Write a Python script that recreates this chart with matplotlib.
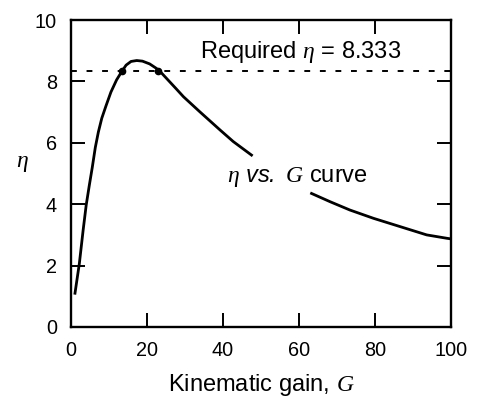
import numpy as np
import matplotlib
matplotlib.use("Agg")
import matplotlib.pyplot as plt

plt.rcParams['font.family'] = ['Liberation Sans', 'DejaVu Sans']
plt.rcParams['mathtext.fontset'] = 'custom'
plt.rcParams['mathtext.rm'] = 'Liberation Sans'
plt.rcParams['mathtext.it'] = 'Liberation Serif:italic'
plt.rcParams['mathtext.sf'] = 'Liberation Sans:italic'

# eta vs G curve (gap where the label sits)
g_rise = [1.05, 2.2, 3.2, 4.0, 4.8, 5.6, 6.4, 7.2, 8.1, 9.2, 10.5, 12.0,
          13.4, 14.5, 15.8, 17.3, 18.8, 20.7, 22.4, 23.4, 27.6, 29.6,
          33.9, 39.2, 42.7, 47.5]
eta_rise = [1.1, 2.07, 3.16, 3.97, 4.6, 5.2, 5.85, 6.35, 6.8, 7.2, 7.65,
            8.05, 8.33, 8.53, 8.65, 8.68, 8.66, 8.57, 8.43, 8.33, 7.77,
            7.5, 7.01, 6.42, 6.04, 5.6]
g_tail = [63.3, 68.2, 73.4, 79.6, 86.6, 93.6, 98.9, 100.0]
eta_tail = [4.35, 4.08, 3.81, 3.54, 3.27, 3.0, 2.89, 2.87]

eta_req = 8.333
g_cross = [13.4, 23.0]

fig = plt.figure(figsize=(4.92, 4.0), dpi=100)
ax = fig.add_axes([0.1443, 0.1825, 0.7724, 0.7675])

ax.plot(g_rise, eta_rise, 'k-', lw=2, solid_joinstyle='round')
ax.plot(g_tail, eta_tail, 'k-', lw=2, solid_joinstyle='round')
ax.axhline(eta_req, color='k', lw=1.4, ls=(0, (3, 5)))
ax.plot(g_cross, [eta_req] * len(g_cross), 'ko', ms=4.5)

ax.text(34, 8.96, r'Required $\eta$ = 8.333', fontsize=17, va='center')
ax.text(41, 4.89, r'$\eta$ $\mathsf{vs.}$ $G$ curve', fontsize=17, va='center')

ax.set_xlim(0, 100)
ax.set_ylim(0, 10)
ax.set_xticks([0, 20, 40, 60, 80, 100])
ax.set_yticks([0, 2, 4, 6, 8, 10])
ax.tick_params(direction='in', length=10, width=1.4, labelsize=14.3, pad=10,
               top=True, right=True)
for s in ax.spines.values():
    s.set_linewidth(1.7)

ax.set_xlabel(r'Kinematic gain, $G$', fontsize=17, labelpad=9)
ax.set_ylabel(r'$\eta$', fontsize=17, rotation=0, labelpad=9)

fig.savefig('out.png', dpi=100)
